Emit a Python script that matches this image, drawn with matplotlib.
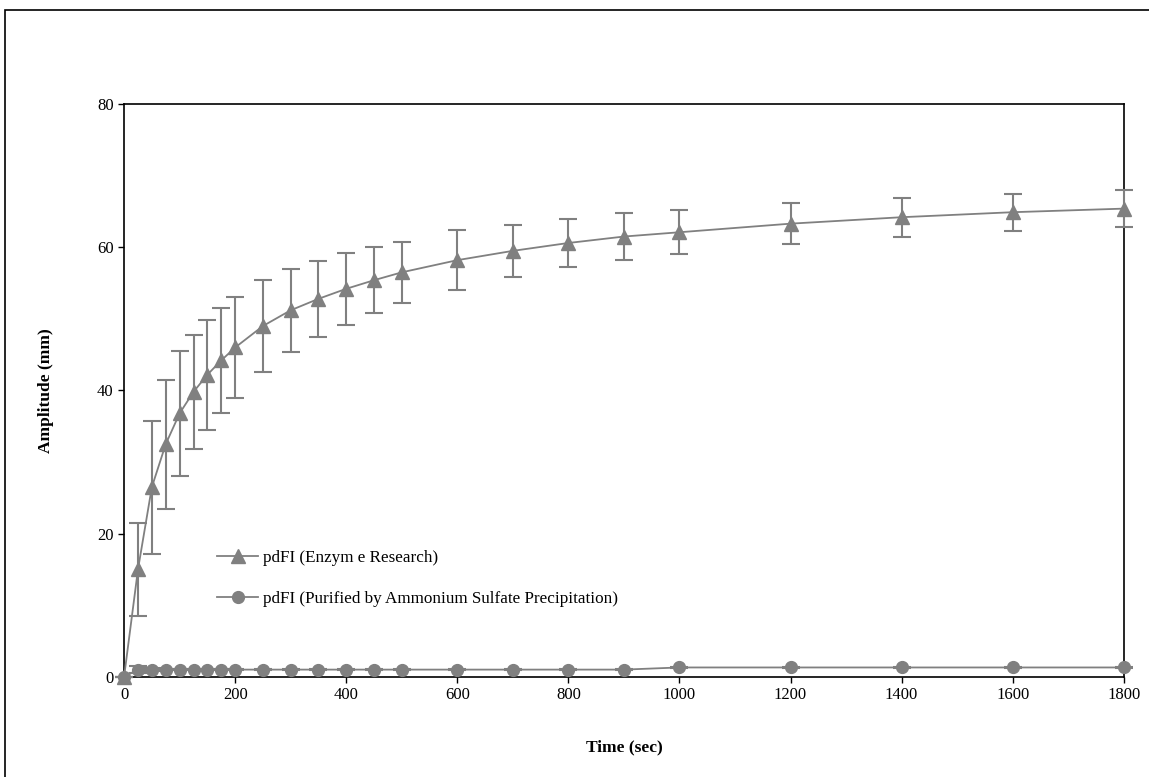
import matplotlib
matplotlib.use("Agg")
import matplotlib.pyplot as plt
from matplotlib.patches import Rectangle

time_sec = [0, 25, 50, 75, 100, 125, 150, 175, 200, 250, 300, 350, 400, 450, 500,
            600, 700, 800, 900, 1000, 1200, 1400, 1600, 1800]
enzyme_research = [0, 15.0, 26.5, 32.5, 36.8, 39.8, 42.2, 44.2, 46.0, 49.0, 51.2, 52.8,
                   54.2, 55.4, 56.5, 58.2, 59.5, 60.6, 61.5, 62.1, 63.3, 64.2, 64.9, 65.4]
enzyme_research_err = [0, 6.5, 9.3, 9.0, 8.7, 8.0, 7.7, 7.3, 7.0, 6.4, 5.8, 5.3,
                       5.0, 4.6, 4.3, 4.2, 3.6, 3.4, 3.3, 3.1, 2.9, 2.7, 2.6, 2.6]
ammonium = [0, 1.0, 1.0, 1.0, 1.0, 1.0, 1.0, 1.0, 1.0, 1.0, 1.0, 1.0, 1.0, 1.0, 1.0,
            1.0, 1.0, 1.0, 1.0, 1.3, 1.3, 1.3, 1.3, 1.3]
ammonium_err = [0, 0.5, 0.2, 0.1, 0.1, 0.1, 0.1, 0.1, 0.1, 0.1, 0.1, 0.1, 0.1, 0.1, 0.1,
                0.1, 0.1, 0.1, 0.1, 0.1, 0.1, 0.1, 0.1, 0.1]
labels = ["pdFI (Enzym e Research)", "pdFI (Purified by Ammonium Sulfate Precipitation)"]
xticks = [0, 200, 400, 600, 800, 1000, 1200, 1400, 1600, 1800]
yticks = [0, 20, 40, 60, 80]

plt.rcParams['font.family'] = ['Liberation Serif', 'DejaVu Serif']
gray = '#808080'

fig = plt.figure(figsize=(11.49, 7.77), dpi=100)
ax = fig.add_axes([0.108, 0.129, 0.870, 0.737])

for y, e, m, ms, lab in [(enzyme_research, enzyme_research_err, '^', 9.5, labels[0]),
                         (ammonium, ammonium_err, 'o', 8.5, labels[1])]:
    cont = ax.errorbar(time_sec, y, yerr=e, color=gray, marker=m, markersize=ms,
                       linewidth=1.3, elinewidth=1.5, capsize=6.5, capthick=1.5,
                       label=lab)
    cont[0].set_clip_on(False)
    for c in cont[1]:
        c.set_clip_on(False)
    for c in cont[2]:
        c.set_clip_on(False)

ax.set_xlim(0, 1800)
ax.set_ylim(0, 80)
ax.set_xticks(xticks)
ax.set_yticks(yticks)
ax.tick_params(direction='out', length=4, labelsize=12, width=1)
for s in ax.spines.values():
    s.set_linewidth(1.2)
    s.set_color('black')
    s.set_zorder(0.5)

ax.set_xlabel('Time (sec)', fontsize=12.5, fontweight='bold', labelpad=26)
ax.set_ylabel('Amplitude (mm)', fontsize=12.5, fontweight='bold', labelpad=31)

handles, lbls = ax.get_legend_handles_labels()
handles = [h[0] for h in handles]
ax.legend(handles, lbls, loc='lower left', bbox_to_anchor=(0.078, 0.095),
          frameon=False, fontsize=12.3, handlelength=2.4, handletextpad=0.25,
          labelspacing=1.45)

fig.patches.append(Rectangle((0.004, -0.01), 1.02, 0.997, transform=fig.transFigure,
                             fill=False, edgecolor='black', linewidth=1.2))

fig.savefig('out.png', dpi=100)
